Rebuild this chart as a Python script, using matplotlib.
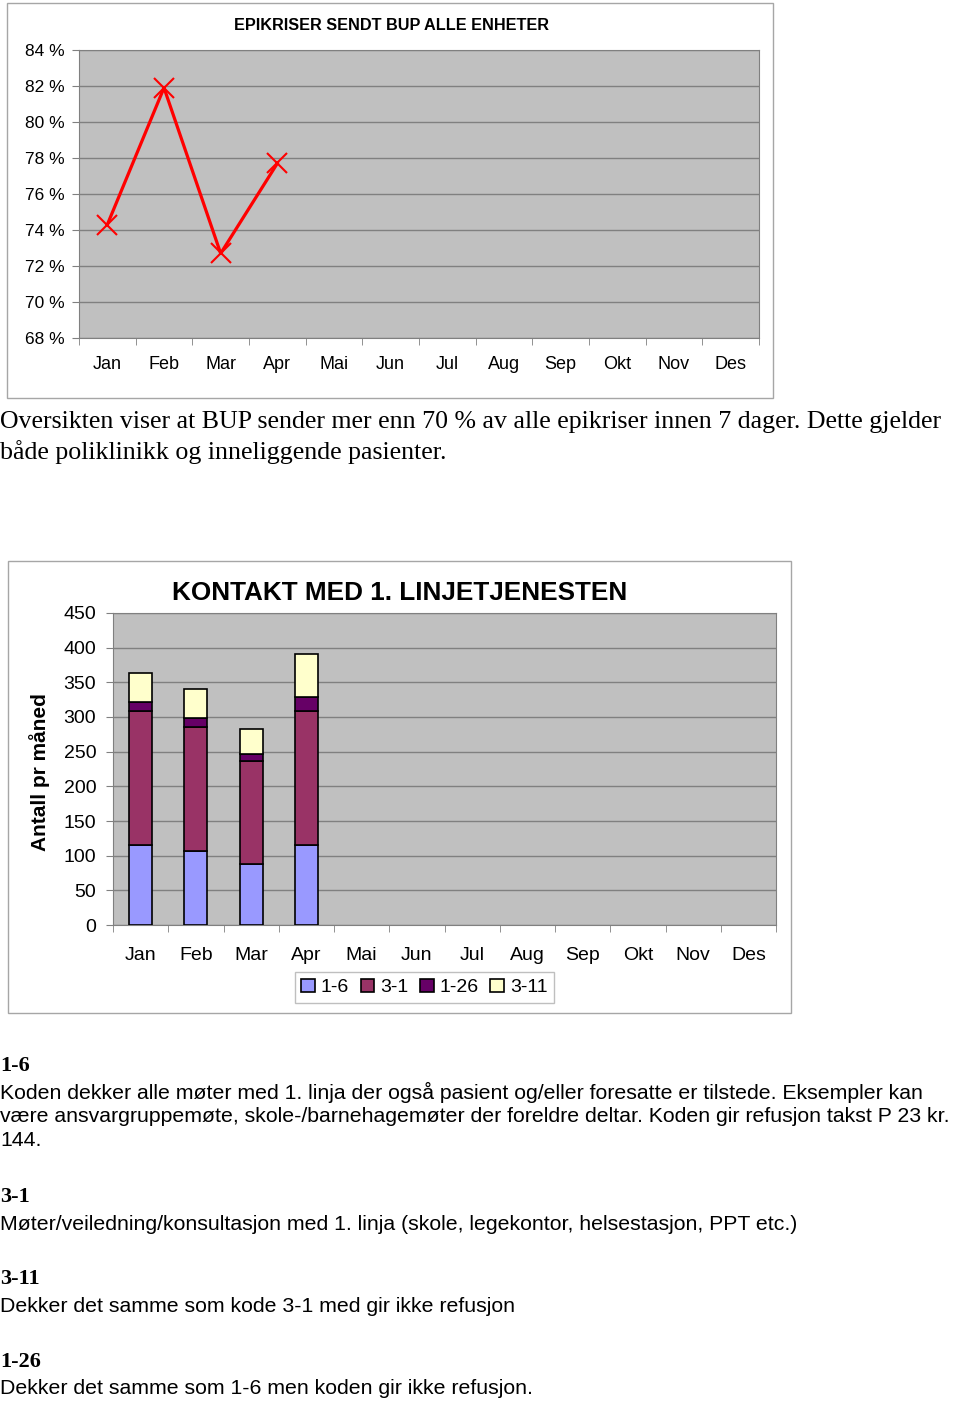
import matplotlib.pyplot as plt
from matplotlib.patches import Rectangle

# Data
months = ['Jan', 'Feb', 'Mar', 'Apr', 'Mai', 'Jun', 'Jul', 'Aug', 'Sep', 'Okt', 'Nov', 'Des']
epikriser = [74.3, 81.9, 72.7, 77.7]          # prosent, Jan-Apr
pct_ticks = [68, 70, 72, 74, 76, 78, 80, 82, 84]

kode_1_6 = [116, 107, 88, 116]
kode_3_1 = [193, 178, 149, 193]
kode_1_26 = [12, 13, 9, 20]
kode_3_11 = [42, 42, 36, 62]
serie_navn = ['1-6', '3-1', '1-26', '3-11']
serie_farger = ['#9999ff', '#993366', '#660066', '#ffffcc']
antall_ticks = [0, 50, 100, 150, 200, 250, 300, 350, 400, 450]

W, H = 960, 1405
fig = plt.figure(figsize=(W / 100, H / 100), dpi=100)
fig.patch.set_facecolor('white')

def rect(x0, y0, x1, y1):
    return [x0 / W, 1 - y1 / H, (x1 - x0) / W, (y1 - y0) / H]

def ftxt(x, y, s, **kw):
    fig.text(x / W, 1 - y / H, s, **kw)

sans = 'Liberation Sans'
serif = 'Liberation Serif'
grid_col = '#808080'
plot_bg = '#c0c0c0'

# rammer rundt diagrammene
for x0, y0, x1, y1 in [(7, 3, 773, 398), (8, 561, 791, 1013)]:
    fig.patches.append(Rectangle((x0 / W, 1 - y1 / H), (x1 - x0) / W, (y1 - y0) / H,
                                 transform=fig.transFigure, fill=False,
                                 edgecolor='#a6a6a6', linewidth=1))

# ---- Diagram 1: epikriser ----
ax1 = fig.add_axes(rect(79, 50, 759, 338))
ax1.set_facecolor(plot_bg)
x = list(range(len(epikriser)))
ax1.plot(x, epikriser, color='#ff0000', linewidth=2.3, marker='x',
         markersize=14, markeredgewidth=1.5, zorder=3)
ax1.set_xlim(-0.5, 11.5)
ax1.set_ylim(68, 84)
ax1.set_yticks(pct_ticks)
ax1.set_yticklabels([f'{t} %' for t in pct_ticks], fontfamily=sans, fontsize=12.5)
ax1.set_xticks(range(12))
ax1.set_xticklabels(months, fontfamily=sans, fontsize=13)
ax1.set_xticks([i - 0.5 for i in range(13)], minor=True)
ax1.tick_params(axis='x', which='major', length=0, pad=13)
ax1.tick_params(axis='x', which='minor', length=5, color=grid_col)
ax1.tick_params(axis='y', length=5, color=grid_col, pad=5)
ax1.grid(axis='y', color=grid_col, linewidth=1)
ax1.set_axisbelow(True)
for s in ax1.spines.values():
    s.set_color(grid_col)
ftxt(392, 25, 'EPIKRISER SENDT BUP ALLE ENHETER', ha='center', va='center',
     fontsize=11.7, fontweight='bold', fontfamily=sans)

ftxt(0, 422, 'Oversikten viser at BUP sender mer enn 70 % av alle epikriser innen 7 dager. Dette gjelder',
     ha='left', va='center', fontsize=18.6, fontfamily=serif)
ftxt(0, 452, 'både poliklinikk og inneliggende pasienter.',
     ha='left', va='center', fontsize=18.6, fontfamily=serif)

# ---- Diagram 2: kontakt med 1. linjetjenesten ----
ax2 = fig.add_axes(rect(113, 613, 776, 925))
ax2.set_facecolor(plot_bg)
xb = list(range(len(kode_1_6)))
bunn = [0] * len(xb)
for verdier, navn, farge in zip([kode_1_6, kode_3_1, kode_1_26, kode_3_11], serie_navn, serie_farger):
    ax2.bar(xb, verdier, width=0.42, bottom=bunn, color=farge, edgecolor='black',
            linewidth=1.2, label=navn, zorder=3)
    bunn = [b + v for b, v in zip(bunn, verdier)]
ax2.set_xlim(-0.5, 11.5)
ax2.set_ylim(0, 450)
ax2.set_yticks(antall_ticks)
ax2.set_yticklabels([str(t) for t in antall_ticks], fontfamily=sans, fontsize=14)
ax2.set_xticks(range(12))
ax2.set_xticklabels(months, fontfamily=sans, fontsize=14)
ax2.set_xticks([i - 0.5 for i in range(13)], minor=True)
ax2.tick_params(axis='x', which='major', length=0, pad=16)
ax2.tick_params(axis='x', which='minor', length=5, color=grid_col)
ax2.tick_params(axis='y', length=5, color=grid_col, pad=7)
ax2.grid(axis='y', color=grid_col, linewidth=1)
ax2.set_axisbelow(True)
for s in ax2.spines.values():
    s.set_color(grid_col)
ftxt(400, 593, 'KONTAKT MED 1. LINJETJENESTEN', ha='center', va='center',
     fontsize=18.8, fontweight='bold', fontfamily=sans)
ftxt(40, 772, 'Antall pr måned', ha='center', va='center', rotation=90,
     fontsize=15, fontweight='bold', fontfamily=sans)
leg = ax2.legend(loc='center', bbox_to_anchor=(424.5 / W, 1 - 987.5 / H),
                 bbox_transform=fig.transFigure, ncol=4, frameon=True, fancybox=False,
                 prop={'family': sans, 'size': 14}, handlelength=0.7, handleheight=0.7,
                 handletextpad=0.3, columnspacing=0.6, borderpad=0.35)
leg.get_frame().set_edgecolor('#b0b0b0')
leg.get_frame().set_linewidth(1)

# ---- Forklaringstekst ----
fs = 15.3
ftxt(0, 1066, '1-6', ha='left', va='center', fontsize=16, fontweight='bold', fontfamily=serif)
ftxt(0, 1092, 'Koden dekker alle møter med 1. linja der også pasient og/eller foresatte er tilstede. Eksempler kan',
     ha='left', va='center', fontsize=fs, fontfamily=sans)
ftxt(0, 1117, 'være ansvargruppemøte, skole-/barnehagemøter der foreldre deltar. Koden gir refusjon takst P 23 kr.',
     ha='left', va='center', fontsize=fs, fontfamily=sans)
ftxt(0, 1141, '144.', ha='left', va='center', fontsize=fs, fontfamily=sans)
ftxt(0, 1197, '3-1', ha='left', va='center', fontsize=16, fontweight='bold', fontfamily=serif)
ftxt(0, 1224, 'Møter/veiledning/konsultasjon med 1. linja (skole, legekontor, helsestasjon, PPT etc.)',
     ha='left', va='center', fontsize=fs, fontfamily=sans)
ftxt(0, 1279, '3-11', ha='left', va='center', fontsize=16, fontweight='bold', fontfamily=serif)
ftxt(0, 1306, 'Dekker det samme som kode 3-1 med gir ikke refusjon',
     ha='left', va='center', fontsize=fs, fontfamily=sans)
ftxt(0, 1362, '1-26', ha='left', va='center', fontsize=16, fontweight='bold', fontfamily=serif)
ftxt(0, 1389, 'Dekker det samme som 1-6 men koden gir ikke refusjon.',
     ha='left', va='center', fontsize=fs, fontfamily=sans)

fig.savefig('out.png', dpi=100)
